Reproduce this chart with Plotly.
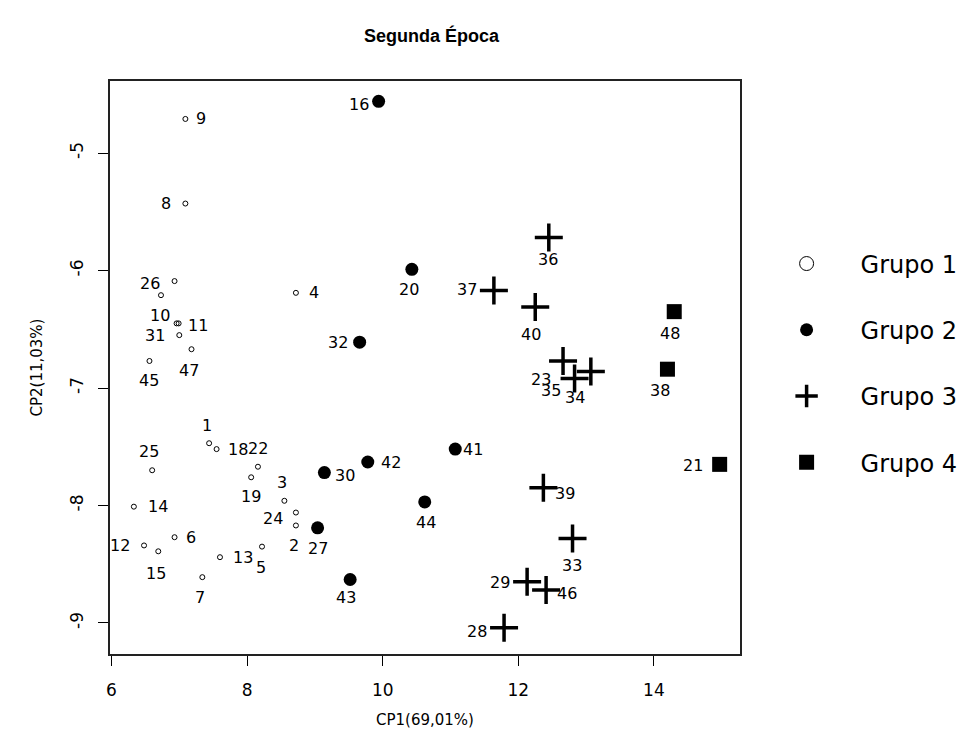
import plotly.graph_objects as go

# ---------------- data ----------------
g1_ids = [1, 2, 3, 4, 5, 6, 7, 8, 9, 10, 11, 12, 13, 14, 15, 17, 18, 19, 22, 24, 25, 26, 31, 45, 47]
g1_x = [7.44, 8.72, 8.55, 8.72, 8.22, 6.93, 7.34, 7.09, 7.09, 6.96, 6.99, 6.48, 7.60, 6.33, 6.69,
        6.73, 7.55, 8.06, 8.16, 8.72, 6.60, 6.93, 7.00, 6.56, 7.18]
g1_y = [-7.47, -8.17, -7.96, -6.19, -8.35, -8.27, -8.61, -5.43, -4.71, -6.45, -6.45, -8.34, -8.44, -8.01, -8.39,
        -6.21, -7.52, -7.76, -7.67, -8.06, -7.70, -6.09, -6.55, -6.77, -6.67]

g2_ids = [16, 20, 27, 30, 32, 41, 42, 43, 44]
g2_x = [9.94, 10.43, 9.04, 9.14, 9.66, 11.07, 9.78, 9.52, 10.62]
g2_y = [-4.56, -5.99, -8.19, -7.72, -6.61, -7.52, -7.63, -8.63, -7.97]

g3_ids = [23, 28, 29, 33, 34, 35, 36, 37, 39, 40, 46]
g3_x = [12.66, 11.79, 12.13, 12.80, 13.07, 12.83, 12.45, 11.64, 12.37, 12.25, 12.41]
g3_y = [-6.77, -9.04, -8.65, -8.28, -6.86, -6.92, -5.72, -6.17, -7.85, -6.31, -8.72]

g4_ids = [21, 38, 48]
g4_x = [14.97, 14.20, 14.30]
g4_y = [-7.65, -6.84, -6.35]

group_names = ["Grupo 1", "Grupo 2", "Grupo 3", "Grupo 4"]
x_ticks = [6, 8, 10, 12, 14]
y_ticks = [-5, -6, -7, -8, -9]
y_tick_text = ["-5", "-6", "-7", "-8", "-9"]

title_text = "Segunda Época"
x_title = "CP1(69,01%)"
y_title = "CP2(11,03%)"

# ---------------- style ----------------
# label offsets in screen pixels (dx, dy; dy positive = downward)
label_offset = {
    1: (-2, -18), 2: (-2, 20), 3: (-2, -18), 4: (18, 0), 5: (-1, 21), 6: (16, 0), 7: (-2, 20),
    8: (-19, 0), 9: (16, 0), 10: (-17, -8), 11: (19, 2), 12: (-24, 0), 13: (23, 0), 14: (24, 0),
    15: (-2, 22), 18: (21, 0), 19: (0, 19), 22: (0, -18), 24: (-23, 6), 25: (-3, -19), 26: (-25, 2),
    31: (-24, 0), 45: (0, 20), 47: (-3, 21),
    16: (-20, 3), 20: (-3, 20), 27: (0, 21), 30: (21, 3), 32: (-22, 0), 41: (18, 0), 42: (23, 0),
    43: (-4, 18), 44: (1, 21),
    23: (-22, 19), 35: (-24, 12), 34: (-16, 26), 28: (-27, 4), 29: (-27, 1), 33: (-1, 27),
    36: (-1, 22), 37: (-27, -1), 39: (22, 6), 40: (-4, 28), 46: (21, 3),
    48: (-4, 22), 38: (-7, 21), 21: (-27, 1),
}
hidden_labels = {17}

FONT = "DejaVu Sans"
fig = go.Figure()

groups = [
    (g1_ids, g1_x, g1_y, dict(symbol="circle-open", size=5, color="black", line=dict(width=1, color="black")),
     dict(symbol="circle-open", size=14, color="black", line=dict(width=1, color="black"))),
    (g2_ids, g2_x, g2_y, dict(symbol="circle", size=13, color="black"),
     dict(symbol="circle", size=13, color="black")),
    (g3_ids, g3_x, g3_y, dict(symbol="cross-thin", size=20, color="black", line=dict(width=3.5, color="black")),
     dict(symbol="cross-thin", size=16, color="black", line=dict(width=3.5, color="black"))),
    (g4_ids, g4_x, g4_y, dict(symbol="square", size=15, color="black"),
     dict(symbol="square", size=15, color="black")),
]

annotations = []
for gi, (ids, xs, ys, mk, lmk) in enumerate(groups):
    fig.add_trace(go.Scatter(x=xs, y=ys, mode="markers", marker=mk, showlegend=False,
                             hoverinfo="text", text=[str(i) for i in ids]))
    # legend entry
    fig.add_trace(go.Scatter(x=[None], y=[None], mode="markers", marker=lmk,
                             name=group_names[gi], legendgroup=group_names[gi], showlegend=True))
    for i, x, y in zip(ids, xs, ys):
        if i in hidden_labels:
            continue
        dx, dy = label_offset.get(i, (0, 18))
        annotations.append(dict(x=x, y=y, xref="x", yref="y", text=str(i), showarrow=False,
                                xshift=dx, yshift=-dy, xanchor="center", yanchor="middle",
                                font=dict(family=FONT, size=16, color="black")))

# axis titles
annotations.append(dict(x=0.5, y=0, xref="paper", yref="paper", text=x_title, showarrow=False,
                        yshift=-66, yanchor="middle", font=dict(family=FONT, size=15, color="black")))
annotations.append(dict(x=0, y=0.5, xref="paper", yref="paper", text=y_title, showarrow=False,
                        xshift=-74, xanchor="center", textangle=-90,
                        font=dict(family=FONT, size=15, color="black")))

fig.update_layout(
    width=967, height=740,
    margin=dict(l=102, r=222, t=73, b=94),
    paper_bgcolor="white", plot_bgcolor="white",
    title=dict(text=title_text, x=(102 + 745) / 2 / 967, xanchor="center", y=1 - 28 / 740,
               yanchor="middle", font=dict(family="Liberation Sans", size=18, color="black", weight="bold")),
    annotations=annotations,
    legend=dict(x=1.02, y=0.72, xanchor="left", yanchor="top", itemwidth=98,
                font=dict(family=FONT, size=24, color="black"), tracegroupgap=32,
                bgcolor="rgba(0,0,0,0)"),
)
fig.update_xaxes(range=[5.978, 15.27], tickvals=x_ticks, ticks="outside", ticklen=10, tickwidth=1,
                 tickcolor="black", showline=True, mirror=True, linecolor="#222", linewidth=1.5,
                 showgrid=False, zeroline=False, ticklabelstandoff=10,
                 tickfont=dict(family=FONT, size=17, color="black"))
fig.update_yaxes(range=[-9.264, -4.387], tickvals=y_ticks, ticktext=y_tick_text, ticks="outside",
                 ticklen=10, tickwidth=1, tickcolor="black", showline=True, mirror=True, linecolor="#222",
                 linewidth=1.5, showgrid=False, zeroline=False, tickangle=-90, ticklabelstandoff=8,
                 tickfont=dict(family=FONT, size=17, color="black"))

fig.write_html("out.html")
